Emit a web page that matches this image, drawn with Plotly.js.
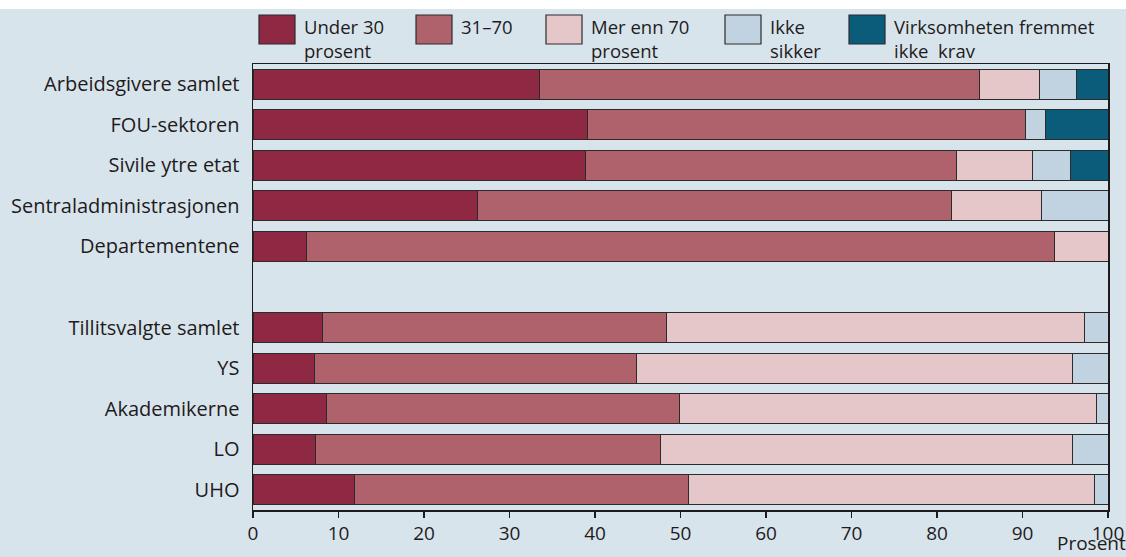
<!DOCTYPE html>
<html>
<head>
<meta charset="utf-8">
<script src="https://cdn.plot.ly/plotly-3.0.1.min.js"></script>
<style>
  html, body { margin: 0; padding: 0; background: #ffffff; }
  #chart { position: absolute; left: 0; top: 9px; width: 1126px; height: 548px; }
</style>
</head>
<body>
<div id="chart"></div>
<script>
// Rows from top to bottom; the blank entry separates the two groups
const categories = [
  "Arbeidsgivere samlet", "FOU-sektoren", "Sivile ytre etat",
  "Sentraladministrasjonen", "Departementene", " ",
  "Tillitsvalgte samlet", "YS", "Akademikerne", "LO", "UHO"
];

// Share of answers (per cent) per category
const under30      = [33.5, 39.1, 38.9, 26.3,  6.3, null,  8.1,  7.2,  8.6,  7.3, 11.9];
const from31to70   = [51.5, 51.2, 43.4, 55.4, 87.5, null, 40.3, 37.7, 41.3, 40.4, 39.0];
const over70       = [ 7.0,  0.0,  8.9, 10.5,  6.2, null, 48.8, 51.0, 48.7, 48.1, 47.5];
const notSure      = [ 4.3,  2.4,  4.4,  7.8,  0.0, null,  2.8,  4.1,  1.4,  4.2,  1.6];
const noDemand     = [ 3.7,  7.3,  4.4,  0.0,  0.0, null,  0.0,  0.0,  0.0,  0.0,  0.0];

const seriesValues = [under30, from31to70, over70, notSure, noDemand];
const seriesNames  = ["Under 30 prosent", "31–70", "Mer enn 70 prosent", "Ikke sikker", "Virksomheten fremmet ikke krav"];
// Legend labels as drawn, with their line breaks
const legendLabels = ["Under 30<br>prosent", "31–70", "Mer enn 70<br>prosent", "Ikke<br>sikker", "Virksomheten fremmet<br>ikke  krav"];
const seriesColors = ["#8f2943", "#b0626c", "#e5c6c9", "#c1d3e0", "#0b5b7b"];

const xTicks = [0, 10, 20, 30, 40, 50, 60, 70, 80, 90, 100];
const xUnit = "Prosent";

const FONT = "Open Sans, Noto Sans, sans-serif";
const INK = "#1f1b1c";
const BG = "#d8e4ec";

// Plot frame in pixels inside the 1126 x 548 chart box
const M = { l: 253, r: 18, t: 55, b: 47 };
const W = 1126, H = 548;
const plotW = W - M.l - M.r, plotH = H - M.t - M.b;
const px = x => (x - M.l) / plotW;
const py = y => (H - M.b - y) / plotH;

const traces = seriesValues.map((vals, i) => ({
  type: "bar",
  orientation: "h",
  name: seriesNames[i],
  y: categories,
  x: vals,
  width: 0.74,
  marker: { color: seriesColors[i], line: { color: "#2b2b2b", width: 1 } },
  hoverinfo: "x+y+name",
  showlegend: false
}));

// Legend: swatches and labels across the top
const legendX = [259, 416, 546, 725, 849];
const shapes = [];
const annotations = [];
legendX.forEach((x0, i) => {
  shapes.push({
    type: "rect", xref: "paper", yref: "paper",
    x0: px(x0), x1: px(x0 + 36), y0: py(35), y1: py(6),
    fillcolor: seriesColors[i], line: { color: "#2b2b2b", width: 1.2 }
  });
  annotations.push({
    xref: "paper", yref: "paper", x: px(x0 + 43), y: py(3),
    xanchor: "left", yanchor: "top", align: "left", showarrow: false,
    text: legendLabels[i], font: { family: FONT, size: 18.5, color: INK }
  });
});

// Unit label under the last tick
annotations.push({
  xref: "paper", yref: "paper", x: px(1127), y: py(548),
  xanchor: "right", yanchor: "bottom", showarrow: false, borderpad: 0,
  text: xUnit, font: { family: FONT, size: 19, color: INK }
});

const layout = {
  width: W, height: H,
  margin: M,
  paper_bgcolor: BG,
  plot_bgcolor: BG,
  barmode: "stack",
  bargap: 0.26,
  font: { family: FONT, size: 20, color: INK },
  xaxis: {
    range: [0, 100],
    tickvals: xTicks,
    ticktext: xTicks.map(String),
    ticks: "outside", ticklen: 6, tickwidth: 1.2, tickcolor: INK,
    showline: true, linecolor: INK, linewidth: 1.5, mirror: true,
    showgrid: false, zeroline: false,
    tickfont: { family: FONT, size: 19, color: INK }
  },
  yaxis: {
    type: "category",
    categoryorder: "array", categoryarray: categories,
    range: [10.5, -0.5],
    ticks: "", ticklabelstandoff: 8,
    showline: true, linecolor: INK, linewidth: 1.5, mirror: true,
    showgrid: false, zeroline: false,
    tickfont: { family: FONT, size: 20, color: INK }
  },
  shapes: shapes,
  annotations: annotations
};

Plotly.newPlot("chart", traces, layout, { displayModeBar: false, staticPlot: true });
</script>
</body>
</html>
